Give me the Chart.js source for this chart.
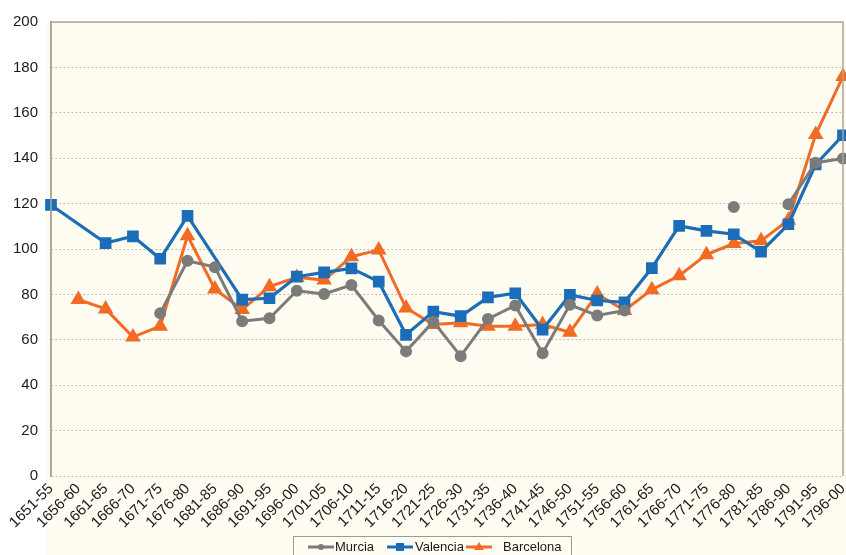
<!DOCTYPE html>
<html>
<head>
<meta charset="utf-8">
<script src="https://cdn.jsdelivr.net/npm/chart.js@4.4.0/dist/chart.umd.min.js"></script>
<style>
html,body{margin:0;padding:0;background:#ffffff;}
#wrap{width:846px;height:555px;position:relative;}
</style>
</head>
<body>
<div id="wrap"><canvas id="c" width="846" height="555"></canvas></div>
<script>
const categories = ["1651-55","1656-60","1661-65","1666-70","1671-75","1676-80","1681-85","1686-90","1691-95","1696-00","1701-05","1706-10","1711-15","1716-20","1721-25","1726-30","1731-35","1736-40","1741-45","1746-50","1751-55","1756-60","1761-65","1766-70","1771-75","1776-80","1781-85","1786-90","1791-95","1796-00"];
const murcia = [null,null,null,null,71.7,94.8,92,68.2,69.5,81.6,80.2,84.1,68.5,54.9,68,52.8,69.2,75.1,54.1,75.4,70.7,72.9,null,null,null,118.5,null,119.7,138,139.9];
const valencia = [119.4,null,102.6,105.6,95.7,114.6,null,77.7,78.3,87.8,89.7,91.5,85.6,62.2,72.4,70.4,78.7,80.5,64.5,79.8,77.3,76.5,91.6,110.2,108,106.5,98.8,110.9,137.3,150.1];
const barcelona = [null,77.7,73.6,61.2,66,105.8,82.4,73.3,83.4,87.5,86.3,96.6,99.6,74,66.7,67.5,66,66,66.7,63.3,80.2,72.9,82.1,88.2,97.5,102.4,103.6,112.7,150.4,176];
const yTicks = [0,20,40,60,80,100,120,140,160,180,200];

const FONT = "'Liberation Sans', Arial, Helvetica, sans-serif";
const CREAM = "#fffdf1";
const FRAME = "#a9a596";

const bgPlugin = {
  id: 'bg',
  beforeDraw(chart) {
    const ctx = chart.ctx, a = chart.chartArea;
    ctx.save();
    ctx.fillStyle = CREAM;
    ctx.fillRect(a.left - 5, a.top, chart.width - (a.left - 5), chart.height - a.top);
    ctx.restore();
  },
  afterDatasetsDraw(chart) {
    const ctx = chart.ctx, a = chart.chartArea;
    ctx.save();
    ctx.strokeStyle = FRAME;
    ctx.lineWidth = 1.5;
    ctx.beginPath();
    ctx.moveTo(a.left, a.bottom);
    ctx.lineTo(a.left, a.top);
    ctx.lineTo(a.right, a.top);
    ctx.lineTo(a.right, a.bottom);
    ctx.stroke();
    ctx.restore();
  },
  afterDraw(chart) {
    const ctx = chart.ctx;
    const box = {x: 293, y: 536, w: 278, h: 30};
    ctx.save();
    ctx.fillStyle = CREAM;
    ctx.fillRect(box.x, box.y, box.w, box.h);
    ctx.strokeStyle = "#9c9a90";
    ctx.lineWidth = 1;
    ctx.strokeRect(box.x + 0.5, box.y + 0.5, box.w, box.h);
    const items = [
      {lx: 308, tx: 335},
      {lx: 387, tx: 415},
      {lx: 466, tx: 503}
    ];
    ctx.font = "13px " + FONT;
    ctx.textBaseline = 'middle';
    const cy = 547;
    chart.data.datasets.forEach((ds, i) => {
      const it = items[i];
      ctx.strokeStyle = ds.borderColor;
      ctx.lineWidth = 3;
      ctx.beginPath();
      ctx.moveTo(it.lx, cy);
      ctx.lineTo(it.lx + 26, cy);
      ctx.stroke();
      ctx.fillStyle = ds.borderColor;
      const mx = it.lx + 13;
      if (ds.pointStyle === 'circle') {
        ctx.beginPath(); ctx.arc(mx, cy, 3, 0, Math.PI*2); ctx.fill();
      } else if (ds.pointStyle === 'rect') {
        ctx.fillRect(mx - 4, cy - 4, 8, 8);
      } else {
        ctx.beginPath(); ctx.moveTo(mx, cy - 5); ctx.lineTo(mx + 5, cy + 3); ctx.lineTo(mx - 5, cy + 3); ctx.closePath(); ctx.fill();
      }
      ctx.fillStyle = "#1a1a1a";
      ctx.textAlign = 'left';
      ctx.fillText(ds.label, it.tx, cy);
    });
    ctx.restore();
  }
};

new Chart(document.getElementById('c'), {
  type: 'line',
  data: {
    labels: categories,
    datasets: [
      {label: 'Murcia', data: murcia, borderColor: '#7b7b7b', backgroundColor: '#7b7b7b', borderWidth: 3, pointStyle: 'circle', pointRadius: 4.5, pointHoverRadius: 4.5, spanGaps: false, clip: false, tension: 0},
      {label: 'Valencia', data: valencia, borderColor: '#1c6db7', backgroundColor: '#1c6db7', borderWidth: 3.2, pointStyle: 'rect', pointRadius: 6, pointHoverRadius: 6, spanGaps: true, clip: false, tension: 0},
      {label: 'Barcelona', data: barcelona, borderColor: '#f26b24', backgroundColor: '#f26b24', borderWidth: 3, pointStyle: 'triangle', pointRadius: 6, pointHoverRadius: 6, spanGaps: true, clip: false, tension: 0}
    ]
  },
  options: {
    responsive: false,
    animation: false,
    events: [],
    layout: {autoPadding: false, padding: {top: 20, right: 3, left: 0, bottom: 0}},
    plugins: {legend: {display: false}, tooltip: {enabled: false}},
    scales: {
      x: {
        offset: false,
        grid: {display: false, drawTicks: false},
        border: {display: false},
        ticks: {
          autoSkip: false, maxRotation: 45, minRotation: 45, padding: 4,
          color: '#1a1a1a', font: {family: FONT, size: 15}
        },
        afterFit(scale) { scale.height = 79; scale.paddingLeft = 0; scale.paddingRight = 0; }
      },
      y: {
        min: 0, max: 200,
        afterBuildTicks(scale) { scale.ticks = yTicks.map(v => ({value: v})); },
        grid: {color: '#b3afa4', lineWidth: 1, drawTicks: false},
        border: {display: true, color: FRAME, width: 1.5, dash: [1.5, 2.5]},
        ticks: {padding: 13, color: '#1a1a1a', font: {family: FONT, size: 15}},
        afterFit(scale) { scale.width = 51; }
      }
    }
  },
  plugins: [bgPlugin]
});
</script>
</body>
</html>
